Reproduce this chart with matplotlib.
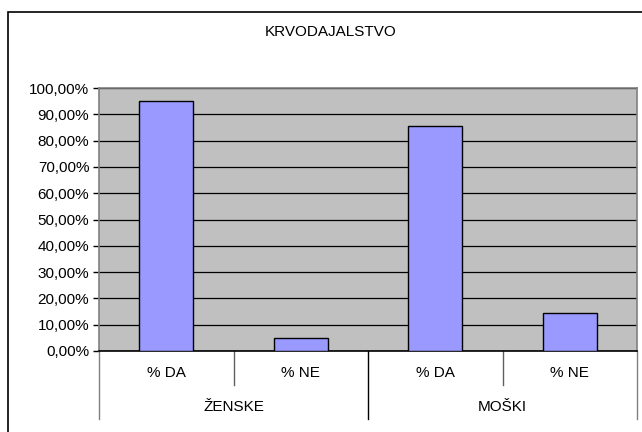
import matplotlib
matplotlib.use("Agg")
import matplotlib.pyplot as plt
from matplotlib.patches import Rectangle
from matplotlib.ticker import FuncFormatter
import numpy as np

# data
groups = ["ŽENSKE", "MOŠKI"]
answers = ["% DA", "% NE"]
zenske = [0.95, 0.05]
moski = [0.8571, 0.1429]

values = zenske + moski
x = np.arange(len(values))

plt.rcParams['font.family'] = ['Liberation Sans', 'DejaVu Sans']
plt.rcParams['font.size'] = 11

W, H = 642, 432
fig = plt.figure(figsize=(W / 100, H / 100), dpi=100)
fig.patch.set_facecolor('white')

# chart area border (Excel style)
fig.patches.append(Rectangle((8 / W, -0.1), 1.2, (H - 12) / H + 0.1,
                             transform=fig.transFigure, fill=False,
                             edgecolor='black', linewidth=1.2))

left, right, top, bottom = 99, 637, 88, 351
ax = fig.add_axes([left / W, (H - bottom) / H, (right - left) / W, (bottom - top) / H])
ax.set_facecolor('#C0C0C0')

ax.set_axisbelow(True)
ax.yaxis.grid(True, color='black', linewidth=0.9)
ax.bar(x, values, width=0.4, color='#9999FF', edgecolor='black', linewidth=1.0, zorder=3)

ax.set_xlim(-0.5, len(values) - 0.5)
ax.set_ylim(0, 1)
ax.set_yticks(np.arange(0, 1.01, 0.1))
ax.yaxis.set_major_formatter(FuncFormatter(lambda v, p: f'{v * 100:.2f}%'.replace('.', ',')))
ax.tick_params(axis='y', direction='out', length=4, width=1, color='black', pad=3, labelsize=11)
ax.set_xticks([])

for s in ['top', 'right', 'left']:
    ax.spines[s].set_color('#808080')
    ax.spines[s].set_linewidth(1.2)
ax.spines['bottom'].set_color('black')
ax.spines['bottom'].set_linewidth(1.2)

# two-level category axis
tr = ax.get_xaxis_transform()
ph = bottom - top
short_y = -(385 - bottom) / ph
long_y = -(419 - bottom) / ph
n_ans = len(answers)
for i in range(len(values) + 1):
    xb = i - 0.5
    if i % n_ans == 0:
        ax.plot([xb, xb], [0, long_y], transform=tr, clip_on=False,
                color='black' if 0 < i < len(values) else '#808080', linewidth=1.0)
    else:
        ax.plot([xb, xb], [0, short_y], transform=tr, clip_on=False,
                color='#606060', linewidth=1.0)

sub_y = -(373 - bottom) / ph
grp_y = -(407 - bottom) / ph
for i, xi in enumerate(x):
    ax.text(xi, sub_y, answers[i % n_ans], transform=tr, ha='center', va='center', fontsize=11)
for g, name in enumerate(groups):
    cx = g * n_ans + (n_ans - 1) / 2
    ax.text(cx, grp_y, name, transform=tr, ha='center', va='center', fontsize=11)

fig.text(331 / W, (H - 32) / H, "KRVODAJALSTVO", ha='center', va='center', fontsize=11)

fig.savefig('out.png', dpi=100)
